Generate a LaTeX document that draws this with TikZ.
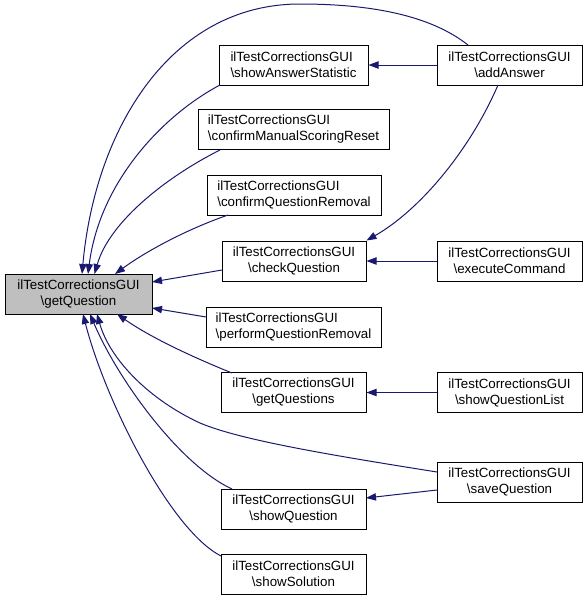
\documentclass[tikz,border=0pt]{standalone}
\usepackage{fontspec}
\setmainfont{Liberation Sans}
\usetikzlibrary{arrows.meta,calc}
\definecolor{edgeblue}{RGB}{25,25,112}
\definecolor{nodegray}{RGB}{191,191,191}
\begin{document}
\begin{tikzpicture}[x=0.75pt,y=-0.75pt,
  fn/.style={draw=black, line width=0.75pt, fill=white, minimum height=30pt, inner sep=2pt,
    font=\fontsize{10}{12}\selectfont, align=center},
  fnl/.style={fn, align=left},
  cur/.style={fn, fill=nodegray},
  call/.style={draw=edgeblue, line width=0.75pt, -{Triangle[length=7.5pt,width=5.5pt]}}]
\useasboundingbox (0,0) rectangle (588,601);

\node[cur, minimum width=110.25pt] (getQuestion) at (78.5,294) {ilTestCorrectionsGUI\\\textbackslash getQuestion};
\node[fnl, minimum width=111.75pt] (showAnswerStatistic) at (293.5,65) {ilTestCorrectionsGUI\\\textbackslash showAnswerStatistic};
\node[fnl, minimum width=143.25pt] (confirmManualScoringReset) at (293.5,129.5) {ilTestCorrectionsGUI\\\textbackslash confirmManualScoringReset};
\node[fnl, minimum width=130.5pt] (confirmQuestionRemoval) at (294,195) {ilTestCorrectionsGUI\\\textbackslash confirmQuestionRemoval};
\node[fn, minimum width=108pt] (checkQuestion) at (294,261) {ilTestCorrectionsGUI\\\textbackslash checkQuestion};
\node[fnl, minimum width=131.25pt] (performQuestionRemoval) at (293.5,327) {ilTestCorrectionsGUI\\\textbackslash performQuestionRemoval};
\node[fn, minimum width=108.75pt] (getQuestions) at (293.5,392.5) {ilTestCorrectionsGUI\\\textbackslash getQuestions};
\node[fn, minimum width=108.75pt] (showQuestion) at (293.5,509) {ilTestCorrectionsGUI\\\textbackslash showQuestion};
\node[fn, minimum width=108.75pt] (showSolution) at (293.5,574) {ilTestCorrectionsGUI\\\textbackslash showSolution};
\node[fn, minimum width=108.75pt] (addAnswer) at (509.5,65) {ilTestCorrectionsGUI\\\textbackslash addAnswer};
\node[fn, minimum width=108.75pt] (executeCommand) at (509.5,261) {ilTestCorrectionsGUI\\\textbackslash executeCommand};
\node[fn, minimum width=108.75pt] (showQuestionList) at (509.5,392.5) {ilTestCorrectionsGUI\\\textbackslash showQuestionList};
\node[fn, minimum width=108.75pt] (saveQuestion) at (509.5,482) {ilTestCorrectionsGUI\\\textbackslash saveQuestion};

% edges into getQuestion (top)
\draw[call] ($(addAnswer.center)+(-41.5,-20)$) .. controls (430,15) and (370,4) .. (300,4)
  .. controls (170,4) and (95,130) .. ($(getQuestion.center)+(3.5,-20)$);
\draw[call] ($(showAnswerStatistic.center)+(-73.5,20)$) .. controls (165,114) and (100,180) .. ($(getQuestion.center)+(9.5,-20)$);
\draw[call] ($(confirmManualScoringReset.center)+(-73.5,20.5)$) .. controls (170,175) and (110,220) .. ($(getQuestion.center)+(16,-20)$);
\draw[call] ($(confirmQuestionRemoval.center)+(-66,20)$) .. controls (185,230) and (145,252) .. ($(getQuestion.center)+(36.5,-20)$);
% side
\draw[call] ($(checkQuestion.center)+(-72,9)$) -- ($(getQuestion.center)+(73.5,-12)$);
\draw[call] ($(performQuestionRemoval.center)+(-87.5,-10)$) -- ($(getQuestion.center)+(73.5,14)$);
% bottom
\draw[call] ($(getQuestions.center)+(-61.5,-19.5)$) .. controls (190,356) and (150,337) .. ($(getQuestion.center)+(38.5,20)$);
\draw[call] ($(saveQuestion.center)+(-72.5,-10)$) .. controls (330,455) and (240,440) .. (200,423)
  .. controls (150,400) and (110,360) .. ($(getQuestion.center)+(18.5,20)$);
\draw[call] ($(showQuestion.center)+(-61.5,-20)$) .. controls (180,465) and (118,380) .. ($(getQuestion.center)+(11.5,20)$);
\draw[call] ($(showSolution.center)+(-72.5,-18)$) .. controls (170,530) and (105,400) .. ($(getQuestion.center)+(4.5,20)$);

% other edges
\draw[call] (addAnswer.west) -- (showAnswerStatistic.east);
\draw[call] ($(addAnswer.center)+(-11.5,20)$) .. controls (470,150) and (420,210) .. (checkQuestion.north east);
\draw[call] (executeCommand.west) -- (checkQuestion.east);
\draw[call] (showQuestionList.west) -- (getQuestions.east);
\draw[call] ($(saveQuestion.center)+(-72.5,8)$) -- ($(showQuestion.center)+(72.5,-11)$);
\end{tikzpicture}
\end{document}
